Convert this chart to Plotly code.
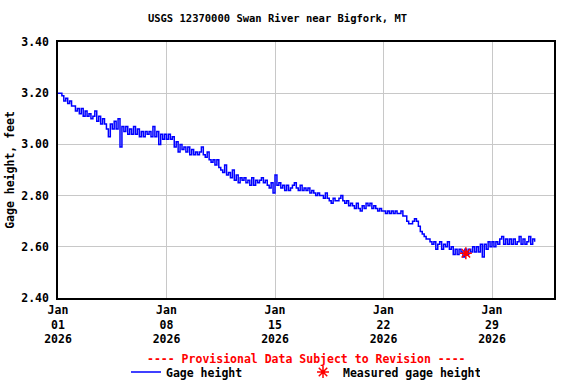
import pandas as pd
import plotly.graph_objects as go

TITLE = "USGS 12370000 Swan River near Bigfork, MT"
START = "2026-01-01 00:00"
STEP = "3h"

# Gage height (ft), read every 3 hours (00,03,...,21) for each day starting Jan 01 2026
gage_by_day = [
    [3.20, 3.20, 3.19, 3.17, 3.18, 3.16, 3.17, 3.15],  # Jan 01
    [3.15, 3.13, 3.14, 3.12, 3.14, 3.11, 3.13, 3.11],  # Jan 02
    [3.12, 3.10, 3.11, 3.13, 3.09, 3.11, 3.08, 3.10],  # Jan 03
    [3.08, 3.06, 3.03, 3.08, 3.06, 3.09, 3.06, 3.10],  # Jan 04
    [2.99, 3.07, 3.05, 3.07, 3.04, 3.06, 3.04, 3.07],  # Jan 05
    [3.04, 3.06, 3.03, 3.05, 3.03, 3.05, 3.04, 3.05],  # Jan 06
    [3.03, 3.07, 3.03, 3.05, 3.00, 3.04, 3.02, 3.04],  # Jan 07
    [3.02, 3.04, 3.02, 3.03, 2.99, 3.01, 2.97, 3.00],  # Jan 08
    [2.98, 2.99, 2.97, 2.99, 2.96, 2.98, 2.96, 2.97],  # Jan 09
    [2.96, 2.97, 2.99, 2.96, 2.95, 2.97, 2.94, 2.93],  # Jan 10
    [2.94, 2.92, 2.94, 2.91, 2.90, 2.89, 2.92, 2.88],  # Jan 11
    [2.89, 2.87, 2.90, 2.86, 2.88, 2.85, 2.87, 2.86],  # Jan 12
    [2.87, 2.85, 2.86, 2.84, 2.87, 2.84, 2.86, 2.85],  # Jan 13
    [2.86, 2.87, 2.85, 2.86, 2.84, 2.83, 2.85, 2.81],  # Jan 14
    [2.88, 2.84, 2.85, 2.83, 2.84, 2.82, 2.84, 2.82],  # Jan 15
    [2.83, 2.84, 2.85, 2.83, 2.82, 2.84, 2.82, 2.83],  # Jan 16
    [2.82, 2.83, 2.81, 2.82, 2.81, 2.80, 2.81, 2.80],  # Jan 17
    [2.80, 2.79, 2.81, 2.79, 2.78, 2.77, 2.79, 2.78],  # Jan 18
    [2.78, 2.79, 2.80, 2.78, 2.77, 2.78, 2.76, 2.77],  # Jan 19
    [2.76, 2.75, 2.77, 2.75, 2.74, 2.76, 2.75, 2.77],  # Jan 20
    [2.76, 2.77, 2.75, 2.76, 2.75, 2.74, 2.75, 2.74],  # Jan 21
    [2.74, 2.73, 2.74, 2.73, 2.74, 2.73, 2.74, 2.73],  # Jan 22
    [2.73, 2.74, 2.72, 2.72, 2.70, 2.69, 2.69, 2.70],  # Jan 23
    [2.71, 2.70, 2.68, 2.66, 2.65, 2.64, 2.63, 2.63],  # Jan 24
    [2.62, 2.61, 2.62, 2.59, 2.61, 2.62, 2.59, 2.61],  # Jan 25
    [2.60, 2.62, 2.59, 2.60, 2.57, 2.59, 2.57, 2.59],  # Jan 26
    [2.58, 2.56, 2.59, 2.57, 2.59, 2.58, 2.60, 2.58],  # Jan 27
    [2.60, 2.58, 2.61, 2.56, 2.61, 2.59, 2.62, 2.60],  # Jan 28
    [2.62, 2.60, 2.62, 2.61, 2.63, 2.64, 2.61, 2.63],  # Jan 29
    [2.61, 2.63, 2.61, 2.63, 2.61, 2.62, 2.64, 2.61],  # Jan 30
    [2.63, 2.61, 2.62, 2.64, 2.61, 2.63, 2.62],        # Jan 31
]

measured_time = ["2026-01-27 07:30"]
measured_value = [2.575]

y_ticks = [2.40, 2.60, 2.80, 3.00, 3.20, 3.40]
x_ticks = ["2026-01-01", "2026-01-08", "2026-01-15", "2026-01-22", "2026-01-29"]
x_tick_labels = ["Jan<br>01<br>2026", "Jan<br>08<br>2026", "Jan<br>15<br>2026",
                 "Jan<br>22<br>2026", "Jan<br>29<br>2026"]

gage_values = [v for day in gage_by_day for v in day]
gage_times = pd.date_range(START, periods=len(gage_values), freq=STEP)

FONT = "DejaVu Sans Mono"
BOLD = dict(family=FONT, size=11.5, color="black", weight="bold")

fig = go.Figure()
fig.add_trace(go.Scatter(
    x=gage_times, y=gage_values, mode="lines", name="Gage height",
    line=dict(color="#0000ff", width=1.5, shape="hv"),
))
fig.add_trace(go.Scatter(
    x=pd.to_datetime(measured_time), y=measured_value, mode="markers",
    name="Measured gage height",
    marker=dict(symbol="asterisk-open", size=10, color="#ff0000",
                line=dict(color="#ff0000", width=1.5)),
))

fig.update_layout(
    width=576, height=384,
    margin=dict(l=58, r=22, t=42, b=86, autoexpand=False),
    paper_bgcolor="white", plot_bgcolor="white",
    font=BOLD,
    title=dict(text=TITLE, x=277.5 / 576, xanchor="center", xref="container",
               y=1 - 18 / 384, yanchor="middle", yref="container",
               font=dict(family=FONT, size=10.5, color="black", weight="bold")),
    showlegend=True,
    legend=dict(orientation="h", xref="container", yref="container",
                x=126 / 576, xanchor="left", y=1 - 372 / 384, yanchor="middle",
                entrywidth=132, entrywidthmode="pixels",
                font=BOLD, bgcolor="rgba(0,0,0,0)", borderwidth=0,
                tracegroupgap=0),
    annotations=[dict(text="---- Provisional Data Subject to Revision ----",
                      xref="paper", yref="paper", x=0.5, y=(298 - 359) / 256,
                      xanchor="center", yanchor="middle", showarrow=False,
                      font=dict(family=FONT, size=11.5, color="#ff0000", weight="bold"))],
)

fig.update_xaxes(
    range=["2026-01-01", "2026-02-02"], automargin=False,
    tickvals=pd.to_datetime(x_ticks), ticktext=x_tick_labels,
    showgrid=True, gridcolor="#c8c8c8", gridwidth=1,
    showline=True, linecolor="black", linewidth=1.5, mirror=True,
    ticks="", zeroline=False, tickfont=BOLD,
)
fig.update_yaxes(
    range=[2.40, 3.40], automargin=False, tickvals=y_ticks, tickformat=".2f",
    showgrid=True, gridcolor="#c8c8c8", gridwidth=1,
    showline=True, linecolor="black", linewidth=1.5, mirror=True,
    ticks="outside", ticklen=5, tickcolor="rgba(0,0,0,0)", zeroline=False,
    tickfont=BOLD,
    title=dict(text="Gage height, feet", font=BOLD, standoff=4),
)

fig.write_html("out.html", config={"displayModeBar": False},
               post_script="document.body.style.margin='0px';document.body.style.overflow='hidden';")
